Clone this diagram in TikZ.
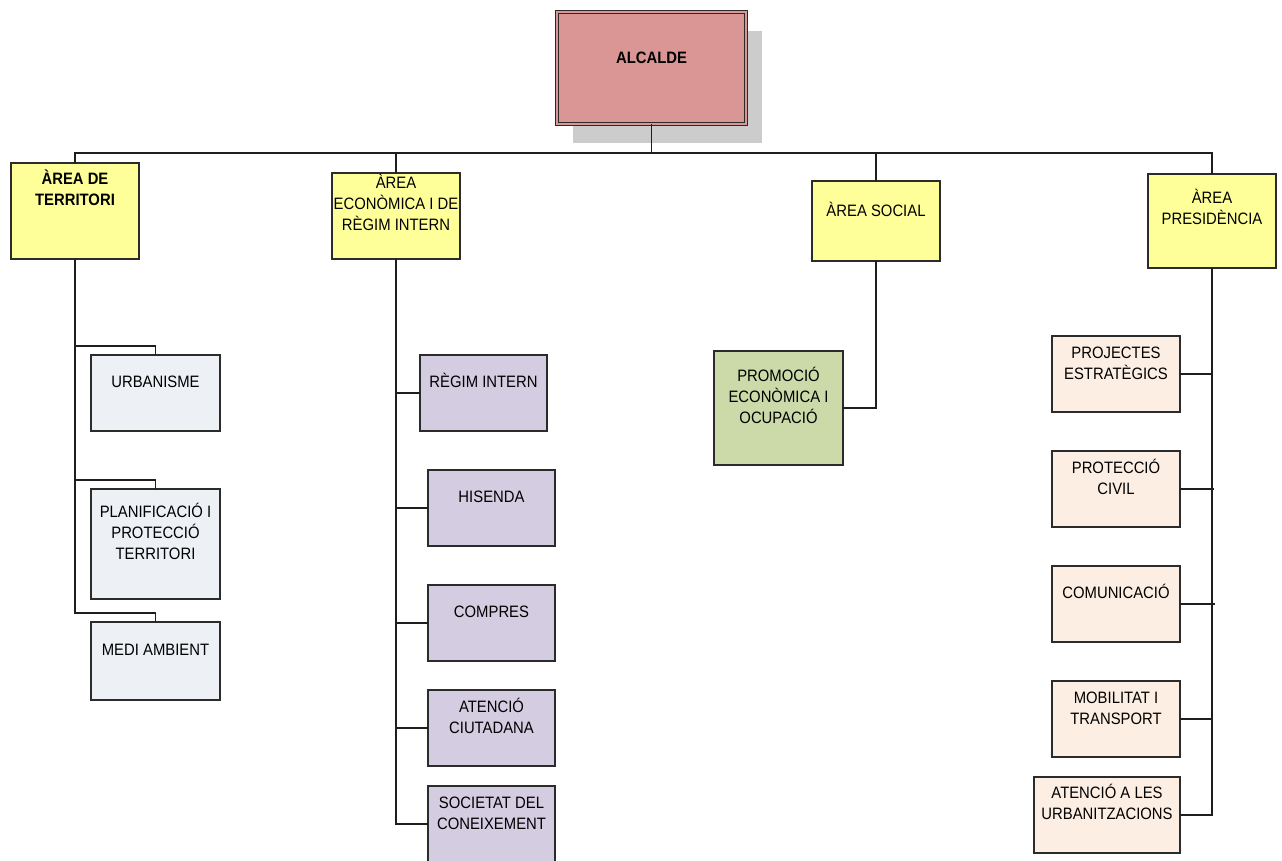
\documentclass[tikz,border=0pt]{standalone}
\usepackage{fontspec}
\setmainfont[FakeStretch=0.9]{Liberation Sans}
\usetikzlibrary{shadows}

\definecolor{alcfill}{HTML}{DA9694}
\definecolor{areafill}{HTML}{FFFF99}
\definecolor{terfill}{HTML}{EDF0F5}
\definecolor{ecofill}{HTML}{D4CCE1}
\definecolor{socfill}{HTML}{CCDAA9}
\definecolor{prefill}{HTML}{FDEEE3}
\definecolor{shadowgray}{HTML}{CCCCCC}
\definecolor{edgecol}{HTML}{2B2B2B}
\definecolor{linecol}{HTML}{1E1E1E}

% width, height, baseline of first line below the top edge, text
\newcommand\boxtext[4]{\parbox[c][#2pt][t]{#1pt}{\centering\vspace*{\dimexpr#3pt-14.7pt\relax}\strut#4\par}}

\tikzset{
  box/.style={draw=edgecol, line width=1.4pt, inner sep=0pt, outer sep=0pt, anchor=north west},
  conn/.style={draw=linecol, line width=1.5pt},
}

\begin{document}
\begin{tikzpicture}[x=1pt, y=-1pt, font=\fontsize{16.5}{21}\selectfont]
\useasboundingbox (0,0) rectangle (1282,860);
\clip (0,0) rectangle (1282,860);

% top
\node[box, fill=alcfill, line width=1.2pt, double=alcfill, double distance=2.2pt,
      drop shadow={shadow xshift=16pt, shadow yshift=-19pt, opacity=1, fill=shadowgray}]
      (alc) at (557,12) {\boxtext{189}{112}{51}{\bfseries ALCALDE}};

% areas
\node[box, fill=areafill] (ter) at (11,163)   {\boxtext{128}{96}{21}{\bfseries ÀREA DE\\TERRITORI}};
\node[box, fill=areafill] (eco) at (332,173)  {\boxtext{128}{86}{15}{ÀREA\\ECONÒMICA I DE\\RÈGIM INTERN}};
\node[box, fill=areafill] (soc) at (812,181)  {\boxtext{128}{80}{35}{ÀREA SOCIAL}};
\node[box, fill=areafill] (pre) at (1148,174) {\boxtext{128}{94}{29}{ÀREA\\PRESIDÈNCIA}};

% territori
\node[box, fill=terfill] (urb)  at (91,355) {\boxtext{129}{76}{32}{URBANISME}};
\node[box, fill=terfill] (plan) at (91,489) {\boxtext{129}{110}{28}{PLANIFICACIÓ I\\PROTECCIÓ\\TERRITORI}};
\node[box, fill=terfill] (med)  at (91,622) {\boxtext{129}{78}{33}{MEDI AMBIENT}};

% economica i regim intern
\node[box, fill=ecofill] (reg)  at (420,355) {\boxtext{127}{76}{32}{RÈGIM INTERN}};
\node[box, fill=ecofill] (his)  at (428,470) {\boxtext{127}{76}{32}{HISENDA}};
\node[box, fill=ecofill] (cmp)  at (428,585) {\boxtext{127}{76}{32}{COMPRES}};
\node[box, fill=ecofill] (ate)  at (428,690) {\boxtext{127}{76}{22}{ATENCIÓ\\CIUTADANA}};
\node[box, fill=ecofill] (sco)  at (428,786) {\boxtext{127}{76}{22}{SOCIETAT DEL\\CONEIXEMENT}};

% social
\node[box, fill=socfill] (prom) at (714,351) {\boxtext{129}{114}{30}{PROMOCIÓ\\ECONÒMICA I\\OCUPACIÓ}};

% presidencia
\node[box, fill=prefill] (pjt)  at (1052,336) {\boxtext{128}{76}{22}{PROJECTES\\ESTRATÈGICS}};
\node[box, fill=prefill] (pc)   at (1052,451) {\boxtext{128}{76}{22}{PROTECCIÓ\\CIVIL}};
\node[box, fill=prefill] (cmn)  at (1052,566) {\boxtext{128}{76}{32}{COMUNICACIÓ}};
\node[box, fill=prefill] (mob)  at (1052,681) {\boxtext{128}{76}{22}{MOBILITAT I\\TRANSPORT}};
\node[box, fill=prefill] (urbz) at (1034,777) {\boxtext{146}{76}{21}{ATENCIÓ A LES\\URBANITZACIONS}};

% bus under the mayor
\coordinate (bus) at (0,153);
\draw[conn] (alc.south) -- (alc.south |- bus);
\draw[conn] (ter.north) -- (ter.north |- bus) -- (pre.north |- bus) -- (pre.north);
\draw[conn] (eco.north) -- (eco.north |- bus);
\draw[conn] (soc.north) -- (soc.north |- bus);

% territori branches
\draw[conn] (ter.south) |- ([yshift=9pt]urb.north) -- (urb.north);
\draw[conn] (ter.south) |- ([yshift=9pt]plan.north) -- (plan.north);
\draw[conn] (ter.south) |- ([yshift=9pt]med.north) -- (med.north);

% economica branches
\draw[conn] (eco.south) |- (sco.west);
\draw[conn] (reg.west) -- (reg.west -| eco.south);
\draw[conn] (his.west) -- (his.west -| eco.south);
\draw[conn] (cmp.west) -- (cmp.west -| eco.south);
\draw[conn] (ate.west) -- (ate.west -| eco.south);

% social branch
\draw[conn] (soc.south) |- (prom.east);

% presidencia branches
\draw[conn] (pre.south) |- (urbz.east);
\draw[conn] (pjt.east) -- (pjt.east -| pre.south);
\draw[conn] (pc.east)  -- ([xshift=2pt]pc.east -| pre.south);
\draw[conn] (cmn.east) -- ([xshift=3pt]cmn.east -| pre.south);
\draw[conn] (mob.east) -- (mob.east -| pre.south);
\end{tikzpicture}
\end{document}
